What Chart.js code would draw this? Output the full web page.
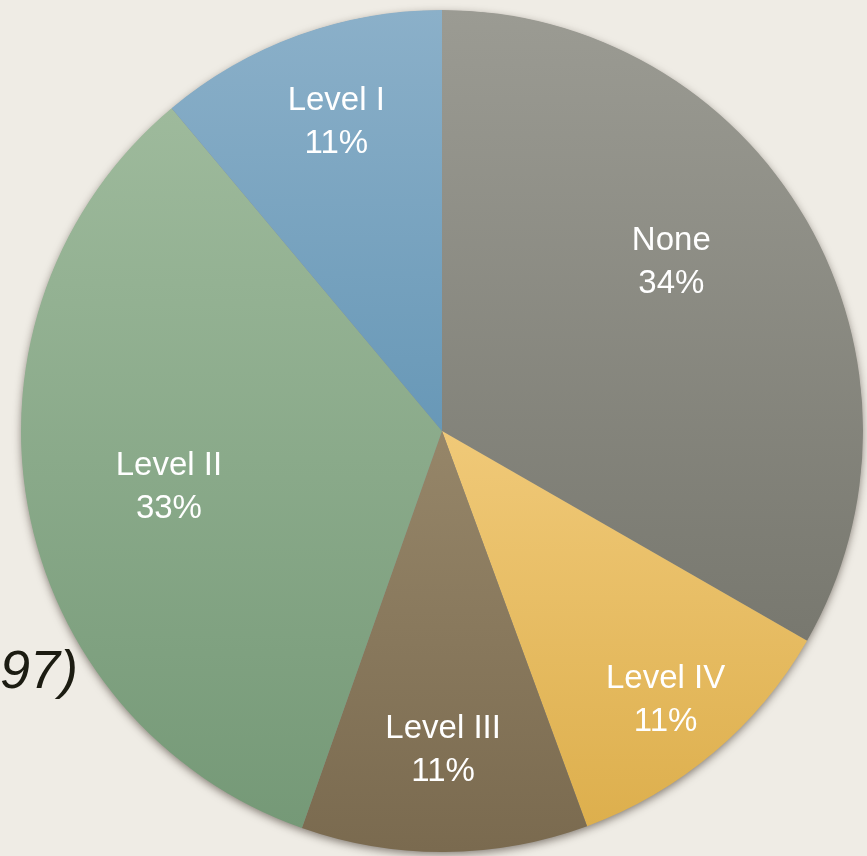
<!DOCTYPE html>
<html>
<head>
<meta charset="utf-8">
<script src="https://cdn.jsdelivr.net/npm/chart.js@4"></script>
<style>
  html, body { margin: 0; padding: 0; background: #efece5; }
  #wrap { position: relative; width: 867px; height: 856px; overflow: hidden; }
  #note {
    position: absolute; right: 789px; top: 637px;
    font: italic 54px "Liberation Sans", Arial, sans-serif;
    line-height: 64px;
    color: #1c1c12; white-space: nowrap;
  }
  canvas { position: absolute; left: 0; top: 0; }
</style>
</head>
<body>
<div id="wrap">
  <div id="note">(n = 297)</div>
  <canvas id="pie" width="867" height="856"></canvas>
</div>
<script>
const categories = ["None", "Level IV", "Level III", "Level II", "Level I"]
// slice sizes in percent
const shares = [33.3, 11.1, 11.0, 33.5, 11.1]
// percentages as printed on the slices
const shareLabels = ["34%", "11%", "11%", "33%", "11%"]

// colour at the top and at the bottom of each slice
const topColors = ["#9b9b93", "#f0c978", "#968669", "#9eba9c", "#8bb0c9"]
const bottomColors = ["#78786f", "#ddaf4d", "#7a6a4f", "#759977", "#6898b7"]

// where each label sits inside its slice
const labelAngleFrac = [0.444, 0.506, 0.504, 0.493, 0.53]
const labelRadiusFrac = [0.68, 0.828, 0.753, 0.661, 0.78]

const total = shares.reduce((a, b) => a + b, 0)

// vertical extent of a slice, from the chart area and the data
function sliceBounds(chart, index) {
    const area = chart.chartArea
    const cx = (area.left + area.right) / 2
    const cy = (area.top + area.bottom) / 2
    const r = Math.min(area.right - area.left, area.bottom - area.top) / 2
    let before = 0
    for (let i = 0; i < index; i++) before += shares[i]
    const a0 = -Math.PI / 2 + before / total * Math.PI * 2
    const a1 = a0 + shares[index] / total * Math.PI * 2
    let ys = [cy, cy + Math.sin(a0) * r, cy + Math.sin(a1) * r]
    const inRange = a => (a0 <= a && a <= a1) || (a0 <= a + 2 * Math.PI && a + 2 * Math.PI <= a1)
    if (inRange(-Math.PI / 2)) ys.push(cy - r)
    if (inRange(Math.PI / 2)) ys.push(cy + r)
    return [Math.min(...ys), Math.max(...ys)]
}

function sliceGradient(context) {
    const chart = context.chart
    const i = context.dataIndex
    if (!chart.chartArea) return topColors[i]
    const [y0, y1] = sliceBounds(chart, i)
    const g = chart.ctx.createLinearGradient(0, y0, 0, y1)
    g.addColorStop(0, topColors[i])
    g.addColorStop(1, bottomColors[i])
    return g
}

const pieShadow = {
    id: "pieShadow",
    beforeDatasetsDraw(chart) {
        const arc = chart.getDatasetMeta(0).data[0]
        if (!arc) return
        const ctx = chart.ctx
        ctx.save()
        ctx.shadowColor = "rgba(40, 30, 20, 0.55)"
        ctx.shadowBlur = 9
        ctx.shadowOffsetX = 0
        ctx.shadowOffsetY = 3
        ctx.fillStyle = "#888"
        ctx.beginPath()
        ctx.arc(arc.x, arc.y, arc.outerRadius - 0.5, 0, Math.PI * 2)
        ctx.fill()
        ctx.restore()
    }
}

const sliceLabels = {
    id: "sliceLabels",
    afterDatasetsDraw(chart) {
        const ctx = chart.ctx
        const meta = chart.getDatasetMeta(0)
        ctx.save()
        ctx.fillStyle = "#ffffff"
        ctx.font = '33px "Liberation Sans", Arial, sans-serif'
        ctx.textAlign = "center"
        ctx.textBaseline = "alphabetic"
        meta.data.forEach((arc, i) => {
            const a = arc.startAngle + (arc.endAngle - arc.startAngle) * labelAngleFrac[i]
            const r = arc.outerRadius * labelRadiusFrac[i]
            const x = arc.x + Math.cos(a) * r
            const y = arc.y + Math.sin(a) * r
            ctx.fillText(categories[i], x, y - 10)
            ctx.fillText(shareLabels[i], x, y + 33)
        })
        ctx.restore()
    }
}

new Chart(document.getElementById("pie").getContext("2d"), {
    type: "pie",
    data: {
        labels: categories,
        datasets: [
            {
                data: shares,
                backgroundColor: sliceGradient,
                borderWidth: 0,
            },
        ],
    },
    options: {
        responsive: false,
        animation: false,
        layout: { padding: { left: 21, right: 4, top: 10, bottom: 4 } },
        plugins: {
            legend: { display: false },
            tooltip: { enabled: false },
        },
    },
    plugins: [pieShadow, sliceLabels],
})
</script>
</body>
</html>
